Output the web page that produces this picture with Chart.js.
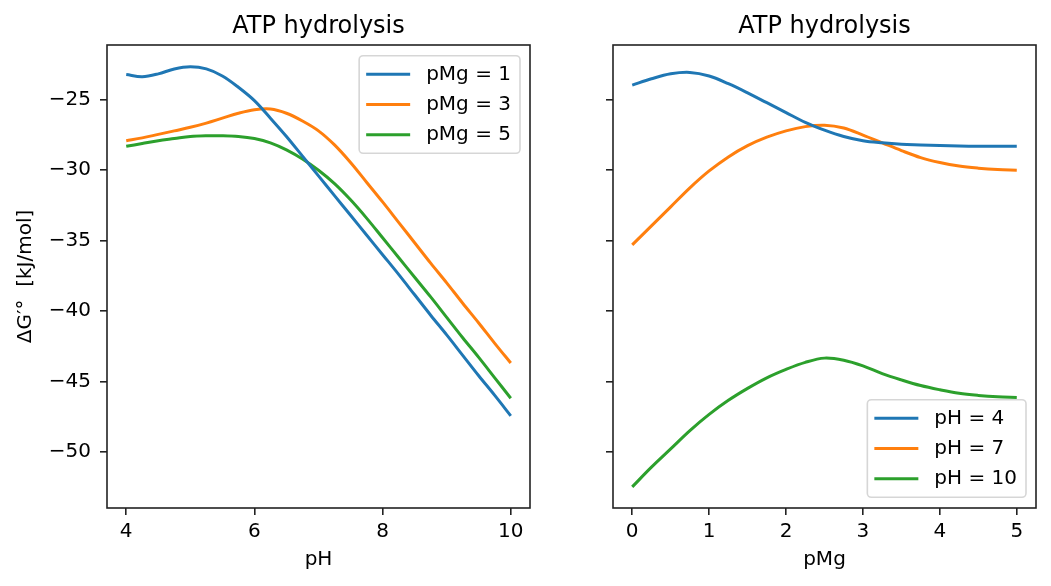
<!DOCTYPE html>
<html>
<head>
<meta charset="utf-8">
<script src="https://cdn.jsdelivr.net/npm/chart.js@4"></script>
<style>
  body { margin: 0; background: #fff; }
  #left, #right { position: absolute; top: 0; }
  #left { left: 0; }
  #right { left: 550px; }
</style>
</head>
<body>
<canvas id="left" width="550" height="586"></canvas>
<canvas id="right" width="501" height="586"></canvas>
<script>
// left panel: dG'0 vs pH for three pMg levels
var phValues = [4, 4.25, 4.5, 4.75, 5, 5.25, 5.5, 5.75, 6, 6.25, 6.5, 6.75, 7,
  7.25, 7.5, 7.75, 8, 8.25, 8.5, 8.75, 9, 9.25, 9.5, 9.75, 10];
var dgPMg1 = [-23.2, -23.35, -23.15, -22.8, -22.65, -22.8, -23.3, -24.1, -25.05, -26.3,
  -27.6, -29.0, -30.4, -31.8, -33.2, -34.6, -36.0, -37.4, -38.85, -40.3, -41.7,
  -43.15, -44.6, -46.0, -47.45];
var dgPMg3 = [-27.9, -27.7, -27.45, -27.2, -26.95, -26.65, -26.3, -25.95, -25.7, -25.65,
  -25.95, -26.5, -27.2, -28.2, -29.45, -30.85, -32.25, -33.7, -35.15, -36.6, -38.0,
  -39.45, -40.85, -42.3, -43.7];
var dgPMg5 = [-28.3, -28.1, -27.9, -27.75, -27.6, -27.55, -27.55, -27.6, -27.75, -28.05,
  -28.55, -29.2, -30.0, -30.95, -32.1, -33.4, -34.8, -36.2, -37.6, -39.0, -40.45,
  -41.9, -43.3, -44.75, -46.2];

// right panel: dG'0 vs pMg for three pH levels
var pMgValues = [0, 0.25, 0.5, 0.75, 1, 1.25, 1.5, 1.75, 2, 2.25, 2.5, 2.75, 3,
  3.25, 3.5, 3.75, 4, 4.25, 4.5, 4.75, 5];
var dgPH4 = [-23.95, -23.5, -23.15, -23.05, -23.3, -23.85, -24.5, -25.2, -25.9, -26.6,
  -27.15, -27.6, -27.9, -28.05, -28.15, -28.2, -28.25, -28.28, -28.3, -28.3, -28.3];
var dgPH7 = [-35.3, -33.95, -32.6, -31.25, -30.05, -29.05, -28.25, -27.65, -27.2, -26.9,
  -26.8, -27.0, -27.5, -28.05, -28.6, -29.1, -29.45, -29.7, -29.85, -29.95, -30.0];
var dgPH10 = [-52.5, -51.1, -49.8, -48.5, -47.35, -46.35, -45.5, -44.75, -44.15, -43.65,
  -43.35, -43.5, -43.9, -44.45, -44.9, -45.3, -45.6, -45.85, -46.0, -46.1, -46.15];

var yTicks = [-50, -45, -40, -35, -30, -25];
var phTicks = [4, 6, 8, 10];
var pMgTicks = [0, 1, 2, 3, 4, 5];

var colors = ['#1f77b4', '#ff7f0e', '#2ca02c'];
var FONT = '"DejaVu Sans", sans-serif';

function pts(xs, ys) {
  return xs.map(function (x, i) { return { x: x, y: ys[i] }; });
}

function ds(label, xs, ys, i) {
  return {
    label: label,
    data: pts(xs, ys),
    borderColor: colors[i],
    borderWidth: 3,
    pointRadius: 0,
    tension: 0.35,
    fill: false
  };
}

function minus(v) { return String(v).replace('-', '\u2212'); }

// axes frame on all four sides
var frame = {
  id: 'frame',
  afterDatasetsDraw: function (chart) {
    var a = chart.chartArea, ctx = chart.ctx;
    ctx.save();
    ctx.strokeStyle = '#222';
    ctx.lineWidth = 1.6;
    ctx.strokeRect(a.left, a.top, a.right - a.left, a.bottom - a.top);
    ctx.restore();
  }
};

// matplotlib-like legend inside the plot
var boxLegend = {
  id: 'boxLegend',
  afterDraw: function (chart, args, opts) {
    var ctx = chart.ctx, a = chart.chartArea;
    ctx.save();
    ctx.font = '20px ' + FONT;
    var sets = chart.data.datasets;
    var textW = Math.max.apply(null, sets.map(function (d) { return ctx.measureText(d.label).width; }));
    var w = 7 + 44 + 16 + textW + 9, h = 97.6;
    var x0 = a.right - 10 - w;
    var y0 = opts.corner === 'upper' ? a.top + 10.7 : a.bottom - 10.7 - h;
    ctx.fillStyle = 'rgba(255,255,255,0.8)';
    ctx.strokeStyle = 'rgba(204,204,204,0.8)';
    ctx.lineWidth = 1.6;
    ctx.beginPath();
    ctx.roundRect(x0, y0, w, h, 4);
    ctx.fill();
    ctx.stroke();
    sets.forEach(function (d, i) {
      var y = y0 + 18.6 + i * 30.2;
      ctx.strokeStyle = d.borderColor;
      ctx.lineWidth = 3;
      ctx.beginPath();
      ctx.moveTo(x0 + 7, y);
      ctx.lineTo(x0 + 51, y);
      ctx.stroke();
      ctx.fillStyle = '#000';
      ctx.textBaseline = 'middle';
      ctx.fillText(d.label, x0 + 67, y);
    });
    ctx.restore();
  }
};

function makeOptions(xMin, xMax, xTicks, xLabel, yAxisWidth, padRight, showY, corner) {
  return {
    responsive: false,
    animation: false,
    layout: { padding: { left: 0, right: padRight, top: 0, bottom: 0 } },
    plugins: {
      legend: { display: false },
      tooltip: { enabled: false },
      title: {
        display: true,
        text: 'ATP hydrolysis',
        fullSize: false,
        color: '#000',
        font: { family: FONT, size: 24, weight: 'normal' },
        padding: { top: 12, bottom: 4.2 }
      },
      boxLegend: { corner: corner }
    },
    scales: {
      x: {
        type: 'linear',
        min: xMin,
        max: xMax,
        afterBuildTicks: function (s) { s.ticks = xTicks.map(function (v) { return { value: v }; }); },
        afterFit: function (s) { s.height = 78; },
        grid: { drawOnChartArea: false, drawTicks: true, tickLength: 7, color: '#222', lineWidth: 1.6 },
        border: { display: false },
        ticks: { color: '#000', font: { family: FONT, size: 20 }, padding: 5, maxRotation: 0 },
        title: { display: true, text: xLabel, color: '#000', font: { family: FONT, size: 20 }, padding: { top: 0, bottom: 14 } }
      },
      y: {
        type: 'linear',
        min: -54.0,
        max: -21.1,
        afterBuildTicks: function (s) { s.ticks = yTicks.map(function (v) { return { value: v }; }); },
        afterFit: function (s) { s.width = yAxisWidth; },
        grid: { drawOnChartArea: false, drawTicks: true, tickLength: 7, color: '#222', lineWidth: 1.6 },
        border: { display: false },
        ticks: {
          color: '#000',
          font: { family: FONT, size: 20 },
          padding: 9,
          callback: function (v) { return showY ? minus(v) : ''; }
        },
        title: {
          display: showY,
          text: '\u0394G\u2032\u00b0  [kJ/mol]',
          color: '#000',
          font: { family: FONT, size: 20 },
          padding: { top: 14, bottom: 0 }
        }
      }
    }
  };
}

new Chart(document.getElementById('left').getContext('2d'), {
  type: 'line',
  data: {
    datasets: [
      ds('pMg = 1', phValues, dgPMg1, 0),
      ds('pMg = 3', phValues, dgPMg3, 1),
      ds('pMg = 5', phValues, dgPMg5, 2)
    ]
  },
  options: makeOptions(3.7, 10.3, phTicks, 'pH', 107, 20, true, 'upper'),
  plugins: [frame, boxLegend]
});

new Chart(document.getElementById('right').getContext('2d'), {
  type: 'line',
  data: {
    datasets: [
      ds('pH = 4', pMgValues, dgPH4, 0),
      ds('pH = 7', pMgValues, dgPH7, 1),
      ds('pH = 10', pMgValues, dgPH10, 2)
    ]
  },
  options: makeOptions(-0.25, 5.25, pMgTicks, 'pMg', 63, 15, false, 'lower'),
  plugins: [frame, boxLegend]
});
</script>
</body>
</html>
